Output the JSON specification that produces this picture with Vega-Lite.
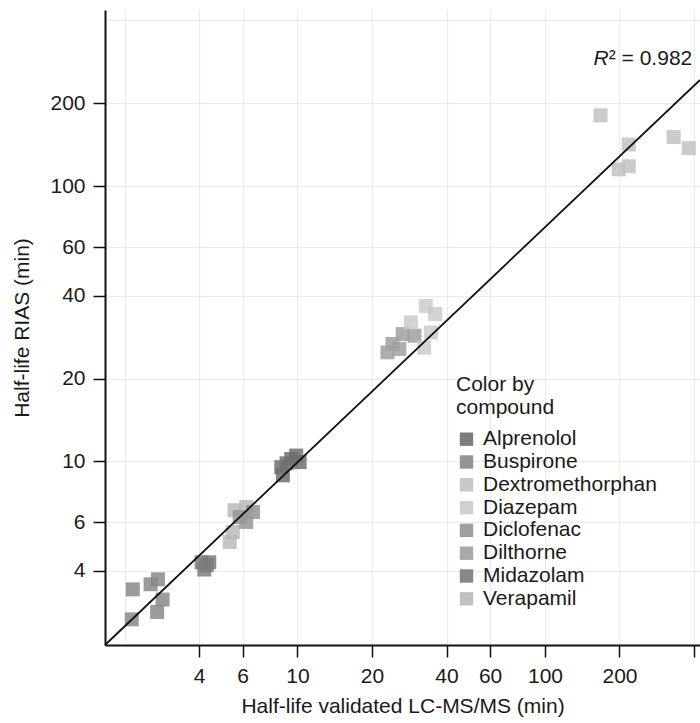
{
  "$schema": "https://vega.github.io/schema/vega-lite/v6.json",
  "width": 595,
  "height": 635,
  "autosize": {"type": "none"},
  "padding": {"left": 105, "top": 10, "right": 0, "bottom": 78},
  "background": "white",
  "config": {
    "view": {"stroke": null},
    "font": "Liberation Sans",
    "axis": {
      "domainColor": "#111",
      "domainWidth": 2,
      "tickColor": "#111",
      "tickWidth": 1.5,
      "gridColor": "#ebebeb",
      "gridWidth": 1.2,
      "labelFont": "Liberation Sans",
      "labelFontSize": 21,
      "labelColor": "#1a1a1a",
      "titleFont": "Liberation Sans",
      "titleFontSize": 21,
      "titleFontWeight": "normal",
      "titleColor": "#1a1a1a"
    }
  },
  "datasets": {
    "pts": [
      {"compound": "Buspirone", "lcms": 2.16, "rias": 3.43},
      {"compound": "Buspirone", "lcms": 2.55, "rias": 3.58},
      {"compound": "Buspirone", "lcms": 2.73, "rias": 3.73},
      {"compound": "Buspirone", "lcms": 2.85, "rias": 3.15},
      {"compound": "Buspirone", "lcms": 2.71, "rias": 2.84},
      {"compound": "Buspirone", "lcms": 2.14, "rias": 2.67},
      {"compound": "Midazolam", "lcms": 4.1, "rias": 4.3},
      {"compound": "Midazolam", "lcms": 4.3, "rias": 4.2},
      {"compound": "Midazolam", "lcms": 4.4, "rias": 4.3},
      {"compound": "Midazolam", "lcms": 4.2, "rias": 4.05},
      {"compound": "Verapamil", "lcms": 5.57, "rias": 6.65},
      {"compound": "Verapamil", "lcms": 6.21, "rias": 6.83},
      {"compound": "Verapamil", "lcms": 5.48, "rias": 5.54},
      {"compound": "Verapamil", "lcms": 5.32, "rias": 5.1},
      {"compound": "Diclofenac", "lcms": 6.61, "rias": 6.55},
      {"compound": "Diclofenac", "lcms": 5.84, "rias": 6.28},
      {"compound": "Diclofenac", "lcms": 6.21, "rias": 6.03},
      {"compound": "Alprenolol", "lcms": 8.6, "rias": 9.53},
      {"compound": "Alprenolol", "lcms": 8.73, "rias": 8.9},
      {"compound": "Alprenolol", "lcms": 9.43, "rias": 10.2},
      {"compound": "Alprenolol", "lcms": 9.88, "rias": 10.5},
      {"compound": "Alprenolol", "lcms": 10.2, "rias": 9.94},
      {"compound": "Alprenolol", "lcms": 9.03, "rias": 9.84},
      {"compound": "Dilthorne", "lcms": 26.6, "rias": 29.0},
      {"compound": "Dilthorne", "lcms": 29.7, "rias": 28.6},
      {"compound": "Dilthorne", "lcms": 24.2, "rias": 26.7},
      {"compound": "Dilthorne", "lcms": 23.1, "rias": 24.9},
      {"compound": "Dilthorne", "lcms": 25.8, "rias": 25.6},
      {"compound": "Diazepam", "lcms": 33.0, "rias": 36.7},
      {"compound": "Diazepam", "lcms": 36.0, "rias": 34.3},
      {"compound": "Diazepam", "lcms": 28.7, "rias": 32.0},
      {"compound": "Diazepam", "lcms": 34.6, "rias": 29.4},
      {"compound": "Diazepam", "lcms": 32.5, "rias": 25.9},
      {"compound": "Dextromethorphan", "lcms": 167.7, "rias": 180.7},
      {"compound": "Dextromethorphan", "lcms": 218, "rias": 141.6},
      {"compound": "Dextromethorphan", "lcms": 198.6, "rias": 115},
      {"compound": "Dextromethorphan", "lcms": 218, "rias": 118},
      {"compound": "Dextromethorphan", "lcms": 331, "rias": 150.7},
      {"compound": "Dextromethorphan", "lcms": 381, "rias": 137.3}
    ],
    "fit": [
      {"lcms": 1.668, "rias": 2.154},
      {"lcms": 423, "rias": 242.8}
    ]
  },
  "layer": [
    {
      "data": {"name": "pts"},
      "mark": {"type": "point", "shape": "square", "filled": true, "size": 196, "opacity": 0.85},
      "encoding": {
        "x": {
          "field": "lcms", "type": "quantitative",
          "scale": {"type": "log", "domain": [1.668, 423], "nice": false, "zero": false},
          "axis": {
            "title": "Half-life validated LC-MS/MS (min)",
            "values": [2, 4, 6, 10, 20, 40, 60, 100, 200, 400],
            "labelExpr": "datum.value == 2 || datum.value == 400 ? '' : '' + datum.value",
            "tickOpacity": {"condition": {"test": "datum.value == 2", "value": 0}, "value": 1},
            "tickSize": 12,
            "labelPadding": 8,
            "titlePadding": 9,
            "grid": true
          }
        },
        "y": {
          "field": "rias", "type": "quantitative",
          "scale": {"type": "log", "domain": [2.154, 436], "nice": false, "zero": false},
          "axis": {
            "title": "Half-life RIAS (min)",
            "values": [4, 6, 10, 20, 40, 60, 100, 200, 400],
            "labelExpr": "datum.value == 400 ? '' : '' + datum.value",
            "tickOpacity": {"condition": {"test": "datum.value == 400", "value": 0}, "value": 1},
            "tickSize": 12,
            "labelPadding": 8,
            "titlePadding": 17,
            "grid": true
          }
        },
        "color": {
          "field": "compound", "type": "nominal",
          "scale": {
            "domain": ["Alprenolol", "Buspirone", "Dextromethorphan", "Diazepam", "Diclofenac", "Dilthorne", "Midazolam", "Verapamil"],
            "range": ["#6f6f6f", "#8a8a8a", "#c2c2c2", "#cbcbcb", "#959595", "#a0a0a0", "#7b7b7b", "#bababa"]
          },
          "legend": {
            "title": ["Color by", "compound"],
            "orient": "none",
            "legendX": 351,
            "legendY": 364,
            "titleFont": "Liberation Sans",
            "titleFontSize": 21,
            "titleFontWeight": "normal",
            "titleColor": "#1a1a1a",
            "titleLineHeight": 22.7,
            "titlePadding": 11,
            "titleLimit": 300,
            "labelFont": "Liberation Sans",
            "labelFontSize": 21,
            "labelColor": "#1a1a1a",
            "labelOffset": 6,
            "labelLimit": 300,
            "symbolType": "square",
            "symbolSize": 180,
            "symbolStrokeWidth": 0,
            "symbolOpacity": 0.9,
            "rowPadding": 0.8
          }
        }
      }
    },
    {
      "data": {"name": "fit"},
      "mark": {"type": "line", "color": "#111", "strokeWidth": 1.8},
      "encoding": {
        "x": {"field": "lcms", "type": "quantitative"},
        "y": {"field": "rias", "type": "quantitative"}
      }
    },
    {
      "data": {"values": [{"lcms": 181, "rias": 275.4, "t": "R"}]},
      "mark": {"type": "text", "align": "right", "baseline": "alphabetic", "fontSize": 21, "fontStyle": "italic", "font": "Liberation Sans", "color": "#1a1a1a"},
      "encoding": {
        "x": {"field": "lcms", "type": "quantitative"},
        "y": {"field": "rias", "type": "quantitative"},
        "text": {"field": "t"}
      }
    },
    {
      "data": {"values": [{"lcms": 181, "rias": 275.4, "t": "² = 0.982"}]},
      "mark": {"type": "text", "align": "left", "baseline": "alphabetic", "fontSize": 21, "font": "Liberation Sans", "color": "#1a1a1a"},
      "encoding": {
        "x": {"field": "lcms", "type": "quantitative"},
        "y": {"field": "rias", "type": "quantitative"},
        "text": {"field": "t"}
      }
    }
  ]
}
